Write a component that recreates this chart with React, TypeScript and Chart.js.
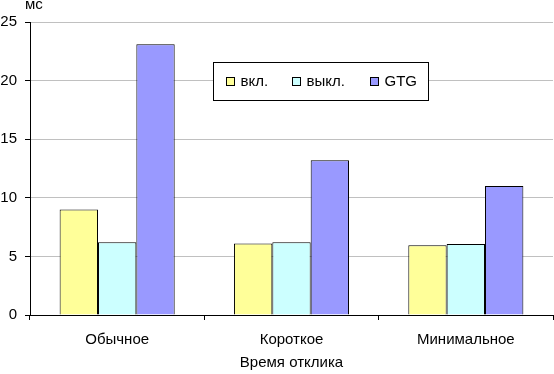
import React, { useEffect, useRef } from "react";
import { Chart, registerables } from "chart.js";

Chart.register(...registerables);

const categories = ["Обычное", "Короткое", "Минимальное"];
const seriesNames = ["вкл.", "выкл.", "GTG"];
const vklValues = [9.0, 6.1, 5.95];
const vyklValues = [6.2, 6.2, 6.05];
const gtgValues = [23.1, 13.2, 11.0];
const seriesColors = ["#FFFF99", "#CCFFFF", "#9999FF"];
const yTicks = [0, 5, 10, 15, 20, 25];
const yUnit = "мс";
const xTitle = "Время отклика";

const FONT = "'Liberation Sans', Arial, sans-serif";
const FS = 15;

const legendPlugin = {
  id: "boxLegend",
  afterDraw(chart: any) {
    const ctx = chart.ctx;
    ctx.save();
    // unit label
    ctx.font = `${FS}px ${FONT}`;
    ctx.fillStyle = "#000";
    ctx.textAlign = "left";
    ctx.textBaseline = "alphabetic";
    ctx.fillText(yUnit, 25, 9);
    // legend box
    const bx = 213.5, by = 62.5, bw = 215, bh = 38;
    ctx.fillStyle = "#fff";
    ctx.fillRect(bx, by, bw, bh);
    ctx.strokeStyle = "#000";
    ctx.lineWidth = 1;
    ctx.strokeRect(bx, by, bw, bh);
    const swX = [226.5, 292.5, 370.5];
    chart.data.datasets.forEach((ds: any, i: number) => {
      ctx.fillStyle = ds.backgroundColor;
      ctx.fillRect(swX[i], 77.5, 8, 8);
      ctx.strokeStyle = "#000";
      ctx.strokeRect(swX[i], 77.5, 8, 8);
      ctx.fillStyle = "#000";
      ctx.font = `${FS}px ${FONT}`;
      ctx.textBaseline = "middle";
      ctx.fillText(ds.label, swX[i] + 14, 82);
    });
    ctx.restore();
  },
};

export default function App() {
  const ref = useRef<HTMLCanvasElement>(null);
  useEffect(() => {
    const values = [vklValues, vyklValues, gtgValues];
    const chart = new Chart(ref.current!, {
      type: "bar",
      data: {
        labels: categories,
        datasets: seriesNames.map((name, i) => ({
          label: name,
          data: values[i],
          backgroundColor: seriesColors[i],
          borderColor: "#000",
          borderWidth: 1,
          categoryPercentage: 0.66,
          barPercentage: 1.0,
        })),
      },
      options: {
        animation: false,
        responsive: false,
        maintainAspectRatio: false,
        layout: { padding: { top: 22, right: 1, left: 0, bottom: 0 } },
        plugins: { legend: { display: false }, tooltip: { enabled: false } },
        scales: {
          x: {
            grid: {
              offset: true,
              drawOnChartArea: false,
              drawTicks: true,
              tickLength: 5,
              tickColor: "#000",
            },
            border: { color: "#000", width: 1 },
            ticks: { color: "#000", font: { family: FONT, size: FS }, padding: 11 },
            title: {
              display: true,
              text: xTitle,
              color: "#000",
              font: { family: FONT, size: FS },
              padding: { top: 2, bottom: 2 },
            },
            afterFit(scale: any) {
              scale.height = 59;
            },
          },
          y: {
            min: 0,
            max: 25,
            afterBuildTicks(scale: any) {
              scale.ticks = yTicks.map((v) => ({ value: v }));
            },
            grid: {
              color: "#c0c0c0",
              tickColor: "#000",
              tickLength: 5,
              drawTicks: true,
            },
            border: { color: "#000", width: 1 },
            ticks: { color: "#000", font: { family: FONT, size: FS }, padding: 8 },
            afterFit(scale: any) {
              scale.width = 30;
            },
          },
        },
      },
      plugins: [legendPlugin],
    });
    return () => chart.destroy();
  }, []);
  return (
    <div style={{ position: "fixed", left: 0, top: 0, width: 554, height: 374, background: "#fff" }}>
      <canvas ref={ref} width={554} height={374} style={{ display: "block" }} />
    </div>
  );
}
